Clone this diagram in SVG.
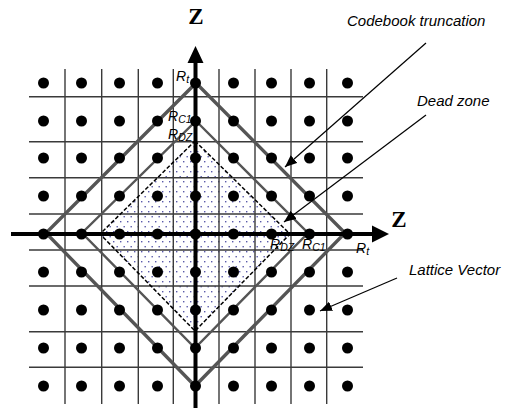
<svg xmlns="http://www.w3.org/2000/svg" width="515" height="408" viewBox="0 0 515 408">
<style>
.grid line{stroke:#3a3a3a;stroke-width:1.4}
.dot{fill:#000}
.lbl{font-family:"Liberation Sans",Arial,sans-serif;font-style:italic;font-size:14px;fill:#000}
.sub{font-size:10.5px}
.call{font-family:"Liberation Sans",Arial,sans-serif;font-style:italic;font-size:15px;fill:#000}
.ax{font-family:"Liberation Serif","Times New Roman",serif;font-weight:bold;font-size:23px;fill:#000}
.leader{stroke:#000;stroke-width:1.2;fill:none;marker-end:url(#ah)}
</style>
<defs>
<pattern id="dz" width="7" height="10" patternUnits="userSpaceOnUse">
<rect x="1" y="1" width="1.4" height="1.4" fill="#5a5aaa"/>
<rect x="4.5" y="6" width="1.4" height="1.4" fill="#5a5aaa"/>
</pattern>
<marker id="ah" viewBox="0 0 12 10" refX="12" refY="5" markerWidth="12" markerHeight="10" markerUnits="userSpaceOnUse" orient="auto">
<path d="M0,0 L12,5 L0,10 z" fill="#000"/>
</marker>
</defs>
<rect width="515" height="408" fill="#fff"/>

<g id="deadzone-fill">
<polygon points="195,141 290,234 195,331 100,234" fill="url(#dz)"/>
</g>

<g id="grid" class="grid">
<line x1="65" y1="69" x2="65" y2="404"/>
<line x1="101.7" y1="69" x2="101.7" y2="404"/>
<line x1="138.3" y1="69" x2="138.3" y2="404"/>
<line x1="173.3" y1="69" x2="173.3" y2="404"/>
<line x1="219" y1="69" x2="219" y2="404"/>
<line x1="255" y1="69" x2="255" y2="404"/>
<line x1="291" y1="69" x2="291" y2="404"/>
<line x1="326.7" y1="69" x2="326.7" y2="404"/>
<line x1="29" y1="96.7" x2="363" y2="96.7"/>
<line x1="29" y1="141.7" x2="363" y2="141.7"/>
<line x1="29" y1="177.7" x2="363" y2="177.7"/>
<line x1="29" y1="214" x2="363" y2="214"/>
<line x1="29" y1="250" x2="363" y2="250"/>
<line x1="29" y1="286" x2="363" y2="286"/>
<line x1="29" y1="331.7" x2="363" y2="331.7"/>
<line x1="29" y1="367.3" x2="363" y2="367.3"/>
</g>

<g id="diamond-Rt">
<polygon points="196,83 345,233 195,386 46,233" fill="none" stroke="#555" stroke-width="3.4"/>
</g>
<g id="diamond-Rc1">
<polygon points="196,121 308,233 195,348 82,233" fill="none" stroke="#555" stroke-width="2.4"/>
</g>
<g id="diamond-Rdz">
<polygon points="195,141 290,234 195,331 100,234" fill="none" stroke="#000" stroke-width="1.5" stroke-dasharray="4 2"/>
</g>

<g id="axes">
<line x1="195.5" y1="60" x2="195.5" y2="408" stroke="#000" stroke-width="4"/>
<polygon points="195.5,46 187.5,63 203.5,63" fill="#000"/>
<line x1="11" y1="234" x2="375" y2="234" stroke="#000" stroke-width="4"/>
<polygon points="389,234 372,225.5 372,242.5" fill="#000"/>
<text class="ax" x="196" y="24" text-anchor="middle">Z</text>
<text class="ax" x="399" y="227" text-anchor="middle">Z</text>
</g>

<g id="lattice">
<g class="dot">
<circle cx="43.5" cy="83" r="5.5"/><circle cx="81.5" cy="83" r="5.5"/><circle cx="119.5" cy="83" r="5.5"/><circle cx="157.5" cy="83" r="5.5"/><circle cx="195.5" cy="83" r="5.5"/><circle cx="233.5" cy="83" r="5.5"/><circle cx="271.5" cy="83" r="5.5"/><circle cx="309.5" cy="83" r="5.5"/><circle cx="347.5" cy="83" r="5.5"/>
<circle cx="43.5" cy="121" r="5.5"/><circle cx="81.5" cy="121" r="5.5"/><circle cx="119.5" cy="121" r="5.5"/><circle cx="157.5" cy="121" r="5.5"/><circle cx="195.5" cy="121" r="5.5"/><circle cx="233.5" cy="121" r="5.5"/><circle cx="271.5" cy="121" r="5.5"/><circle cx="309.5" cy="121" r="5.5"/><circle cx="347.5" cy="121" r="5.5"/>
<circle cx="43.5" cy="158" r="5.5"/><circle cx="81.5" cy="158" r="5.5"/><circle cx="119.5" cy="158" r="5.5"/><circle cx="157.5" cy="158" r="5.5"/><circle cx="195.5" cy="158" r="5.5"/><circle cx="233.5" cy="158" r="5.5"/><circle cx="271.5" cy="158" r="5.5"/><circle cx="309.5" cy="158" r="5.5"/><circle cx="347.5" cy="158" r="5.5"/>
<circle cx="43.5" cy="196" r="5.5"/><circle cx="81.5" cy="196" r="5.5"/><circle cx="119.5" cy="196" r="5.5"/><circle cx="157.5" cy="196" r="5.5"/><circle cx="195.5" cy="196" r="5.5"/><circle cx="233.5" cy="196" r="5.5"/><circle cx="271.5" cy="196" r="5.5"/><circle cx="309.5" cy="196" r="5.5"/><circle cx="347.5" cy="196" r="5.5"/>
<circle cx="43.5" cy="234" r="5.5"/><circle cx="81.5" cy="234" r="5.5"/><circle cx="119.5" cy="234" r="5.5"/><circle cx="157.5" cy="234" r="5.5"/><circle cx="195.5" cy="234" r="5.5"/><circle cx="233.5" cy="234" r="5.5"/><circle cx="271.5" cy="234" r="5.5"/><circle cx="309.5" cy="234" r="5.5"/><circle cx="347.5" cy="234" r="5.5"/>
<circle cx="43.5" cy="272" r="5.5"/><circle cx="81.5" cy="272" r="5.5"/><circle cx="119.5" cy="272" r="5.5"/><circle cx="157.5" cy="272" r="5.5"/><circle cx="195.5" cy="272" r="5.5"/><circle cx="233.5" cy="272" r="5.5"/><circle cx="271.5" cy="272" r="5.5"/><circle cx="309.5" cy="272" r="5.5"/><circle cx="347.5" cy="272" r="5.5"/>
<circle cx="43.5" cy="310" r="5.5"/><circle cx="81.5" cy="310" r="5.5"/><circle cx="119.5" cy="310" r="5.5"/><circle cx="157.5" cy="310" r="5.5"/><circle cx="195.5" cy="310" r="5.5"/><circle cx="233.5" cy="310" r="5.5"/><circle cx="271.5" cy="310" r="5.5"/><circle cx="309.5" cy="310" r="5.5"/><circle cx="347.5" cy="310" r="5.5"/>
<circle cx="43.5" cy="348" r="5.5"/><circle cx="81.5" cy="348" r="5.5"/><circle cx="119.5" cy="348" r="5.5"/><circle cx="157.5" cy="348" r="5.5"/><circle cx="195.5" cy="348" r="5.5"/><circle cx="233.5" cy="348" r="5.5"/><circle cx="271.5" cy="348" r="5.5"/><circle cx="309.5" cy="348" r="5.5"/><circle cx="347.5" cy="348" r="5.5"/>
<circle cx="43.5" cy="386" r="5.5"/><circle cx="81.5" cy="386" r="5.5"/><circle cx="119.5" cy="386" r="5.5"/><circle cx="157.5" cy="386" r="5.5"/><circle cx="195.5" cy="386" r="5.5"/><circle cx="233.5" cy="386" r="5.5"/><circle cx="271.5" cy="386" r="5.5"/><circle cx="309.5" cy="386" r="5.5"/><circle cx="347.5" cy="386" r="5.5"/>
</g>
</g>

<g id="radius-labels">
<text class="lbl" x="176" y="81">R<tspan class="sub" dy="2">t</tspan></text>
<text class="lbl" x="168" y="121">R<tspan class="sub" dy="2">C1</tspan></text>
<text class="lbl" x="168" y="139">R<tspan class="sub" dy="2">DZ</tspan></text>
<text class="lbl" x="270" y="249">R<tspan class="sub" dy="2">DZ</tspan></text>
<text class="lbl" x="302" y="249">R<tspan class="sub" dy="2">C1</tspan></text>
<text class="lbl" x="356" y="253">R<tspan class="sub" dy="2">t</tspan></text>
</g>

<g id="callouts">
<line class="leader" x1="426" y1="43" x2="285" y2="167"/>
<line class="leader" x1="426" y1="115" x2="284" y2="222"/>
<line class="leader" x1="397" y1="278" x2="320" y2="311"/>
<text class="call" x="347" y="26">Codebook truncation</text>
<text class="call" x="417" y="106">Dead zone</text>
<text class="call" x="409" y="275">Lattice Vector</text>
</g>
</svg>
